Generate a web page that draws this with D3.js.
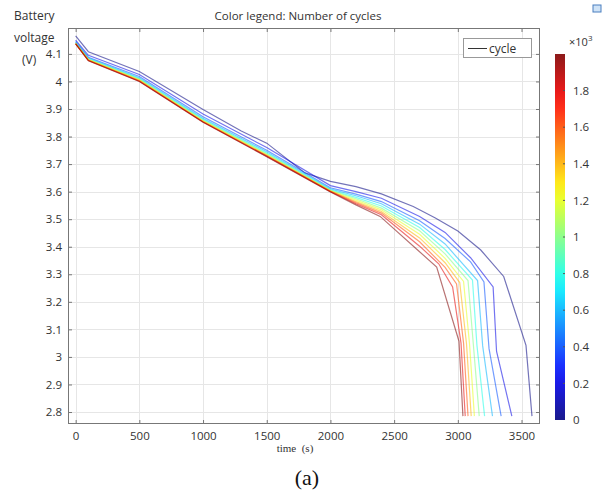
<html>
<head>
  <meta charset="utf-8">
  <script src="https://d3js.org/d3.v7.min.js"></script>
  <script>
    // discharge curves, [time (s), voltage (V)]
    var cyc0    = [[0,4.165],[100,4.108],[500,4.036],[1000,3.898],[1300,3.820],[1500,3.776],[1800,3.668],[2000,3.637],[2200,3.618],[2400,3.592],[2650,3.546],[2820,3.505],[3000,3.457],[3180,3.388],[3360,3.292],[3535,3.042],[3582,2.785]];
    var cyc200  = [[0,4.150],[100,4.095],[500,4.025],[1000,3.882],[1500,3.760],[2000,3.622],[2200,3.600],[2400,3.576],[2700,3.510],[2900,3.452],[3100,3.360],[3277,3.254],[3304,3.020],[3424,2.785]];
    var cyc400  = [[0,4.145],[100,4.088],[500,4.018],[1000,3.872],[1500,3.750],[2000,3.614],[2200,3.591],[2400,3.564],[2700,3.494],[2900,3.430],[3100,3.345],[3205,3.272],[3245,3.030],[3340,2.785]];
    var cyc600  = [[0,4.142],[100,4.085],[500,4.013],[1000,3.866],[1500,3.745],[2000,3.610],[2200,3.585],[2400,3.556],[2700,3.482],[2900,3.410],[3155,3.277],[3195,3.040],[3272,2.785]];
    var cyc800  = [[0,4.140],[100,4.082],[500,4.010],[1000,3.862],[1500,3.740],[2000,3.607],[2200,3.579],[2400,3.548],[2700,3.470],[2900,3.390],[3115,3.279],[3150,3.042],[3210,2.785]];
    var cyc1000 = [[0,4.139],[100,4.080],[500,4.008],[1000,3.859],[1500,3.737],[2000,3.605],[2200,3.574],[2400,3.540],[2700,3.458],[2900,3.374],[3080,3.277],[3122,3.044],[3168,2.785]];
    var cyc1200 = [[0,4.138],[100,4.079],[500,4.006],[1000,3.857],[1500,3.734],[2000,3.603],[2200,3.569],[2400,3.534],[2700,3.445],[2900,3.358],[3045,3.274],[3092,3.046],[3130,2.785]];
    var cyc1400 = [[0,4.137],[100,4.078],[500,4.004],[1000,3.855],[1500,3.732],[2000,3.602],[2200,3.564],[2400,3.528],[2700,3.432],[2900,3.342],[3015,3.270],[3068,3.048],[3105,2.785]];
    var cyc1600 = [[0,4.137],[100,4.077],[500,4.002],[1000,3.854],[1500,3.730],[2000,3.601],[2200,3.560],[2400,3.522],[2700,3.418],[2900,3.325],[2990,3.265],[3045,3.050],[3080,2.785]];
    var cyc1800 = [[0,4.136],[100,4.076],[500,4.001],[1000,3.853],[1500,3.728],[2000,3.600],[2200,3.556],[2400,3.516],[2700,3.402],[2850,3.338],[2959,3.254],[3025,3.050],[3058,2.785]];
    var cyc2000 = [[0,4.136],[100,4.075],[500,4.000],[1000,3.852],[1500,3.727],[2000,3.599],[2200,3.552],[2390,3.510],[2680,3.390],[2834,3.326],[3009,3.057],[3040,2.785]];

    var cycles = [0, 200, 400, 600, 800, 1000, 1200, 1400, 1600, 1800, 2000];
    var curves = [cyc0, cyc200, cyc400, cyc600, cyc800, cyc1000, cyc1200, cyc1400, cyc1600, cyc1800, cyc2000];

    var xTicks = [0, 500, 1000, 1500, 2000, 2500, 3000, 3500];
    var yTicks = [2.8, 2.9, 3, 3.1, 3.2, 3.3, 3.4, 3.5, 3.6, 3.7, 3.8, 3.9, 4, 4.1];
    var cbTicks = [0, 200, 400, 600, 800, 1000, 1200, 1400, 1600, 1800];

    var FONT = "'Open Sans', sans-serif";
    var SERIF = "'Liberation Serif', 'DejaVu Serif', serif";

    function makeChart() {
      var L = 68, R = 540, T = 28, B = 424;
      var xSc = d3.scaleLinear().domain([-60, 3645]).range([L, R]);
      var ySc = d3.scaleLinear().domain([2.7565, 4.194]).range([B, T]);

      // jet-like colour table
      var jet = d3.scaleLinear()
        .domain([0, 0.125, 0.375, 0.625, 0.875, 1])
        .range(["#00007f", "#0000ff", "#00ffff", "#ffff00", "#ff0000", "#7f0000"]);
      var cSc = d3.scaleLinear().domain([0, 2000]).range([0, 1]);

      var svg = d3.select("#chart");

      // grid
      var grid = svg.append("g").attr("stroke", "#e6e6e6").attr("stroke-width", 1);
      grid.selectAll("line.gx").data(xTicks).enter().append("line")
        .attr("x1", d => Math.round(xSc(d)) + 0.5).attr("x2", d => Math.round(xSc(d)) + 0.5)
        .attr("y1", T).attr("y2", B);
      grid.selectAll("line.gy").data(yTicks).enter().append("line")
        .attr("y1", d => Math.round(ySc(d)) + 0.5).attr("y2", d => Math.round(ySc(d)) + 0.5)
        .attr("x1", L).attr("x2", R);

      svg.append("clipPath").attr("id", "plotclip").append("rect")
        .attr("x", L).attr("y", T).attr("width", R - L).attr("height", B - T);

      var line = d3.line().x(d => xSc(d[0])).y(d => ySc(d[1]));
      svg.append("g").attr("clip-path", "url(#plotclip)")
        .selectAll("path").data(curves).enter().append("path")
        .attr("d", line)
        .attr("fill", "none")
        .attr("stroke", (d, i) => jet(cSc(cycles[i])))
        .attr("stroke-opacity", 0.55)
        .attr("stroke-width", 1.2);

      // axes with inward ticks
      var xAx = d3.axisBottom(xSc).tickValues(xTicks).tickSizeInner(-4).tickSizeOuter(0).tickPadding(8).tickFormat(d3.format("d"));
      var yAx = d3.axisLeft(ySc).tickValues(yTicks).tickSizeInner(-4).tickSizeOuter(0).tickPadding(6).tickFormat(d => String(d));
      var yAxR = d3.axisRight(ySc).tickValues(yTicks).tickSizeInner(-4).tickSizeOuter(0).tickFormat("");
      var xAxT = d3.axisTop(xSc).tickValues(xTicks).tickSizeInner(-4).tickSizeOuter(0).tickFormat("");

      function styleAxis(g) {
        g.selectAll(".domain").remove();
        g.selectAll("line").attr("stroke", "#777");
        g.selectAll("text").attr("fill", "#333").style("font-family", FONT).style("font-size", "11.5px");
      }
      svg.append("g").attr("transform", "translate(0," + B + ")").call(xAx).call(styleAxis);
      svg.append("g").attr("transform", "translate(" + L + ",0)").call(yAx).call(styleAxis);
      svg.append("g").attr("transform", "translate(" + R + ",0)").call(yAxR).call(styleAxis);
      svg.append("g").attr("transform", "translate(0," + T + ")").call(xAxT).call(styleAxis);

      svg.append("rect").attr("x", L + 0.5).attr("y", T + 0.5)
        .attr("width", R - L - 1).attr("height", B - T - 1)
        .attr("fill", "none").attr("stroke", "#777");

      // y label
      var yl = svg.append("g").attr("font-family", FONT).attr("font-size", "12px").attr("fill", "#333");
      yl.append("text").attr("x", 14).attr("y", 20).text("Battery");
      yl.append("text").attr("x", 14).attr("y", 42).text("voltage");
      yl.append("text").attr("x", 22).attr("y", 64).text("(V)");

      // title
      svg.append("text").attr("x", 298).attr("y", 20).attr("text-anchor", "middle")
        .attr("font-family", FONT).attr("font-size", "11.5px").attr("fill", "#333")
        .text("Color legend: Number of cycles");

      // x label
      svg.append("text").attr("x", 295).attr("y", 452).attr("text-anchor", "middle")
        .attr("font-family", SERIF).attr("font-size", "11px").attr("fill", "#333")
        .attr("xml:space", "preserve").text("time  (s)");

      svg.append("text").attr("x", 307).attr("y", 485).attr("text-anchor", "middle")
        .attr("font-family", SERIF).attr("font-size", "22px").attr("fill", "#111")
        .text("(a)");

      // legend box
      var lg = svg.append("g");
      lg.append("rect").attr("x", 463.5).attr("y", 38.5).attr("width", 68).attr("height", 19)
        .attr("fill", "#fff").attr("stroke", "#999");
      lg.append("line").attr("x1", 468).attr("x2", 487).attr("y1", 48.5).attr("y2", 48.5)
        .attr("stroke", "#333");
      lg.append("text").attr("x", 489).attr("y", 52.5)
        .attr("font-family", FONT).attr("font-size", "12px").attr("fill", "#333").text("cycle");

      // colour bar
      var cbTop = 54, cbBot = 420, cbX = 555, cbW = 10;
      var cbSc = d3.scaleLinear().domain([0, 2000]).range([cbBot, cbTop]);
      var grad = svg.append("defs").append("linearGradient").attr("id", "jetgrad")
        .attr("x1", 0).attr("y1", 1).attr("x2", 0).attr("y2", 0);
      grad.selectAll("stop").data(d3.range(0, 1.0001, 0.05)).enter().append("stop")
        .attr("offset", d => d).attr("stop-color", d => jet(d));
      svg.append("rect").attr("x", cbX).attr("y", cbTop).attr("width", cbW).attr("height", cbBot - cbTop)
        .attr("fill", "url(#jetgrad)").attr("opacity", 0.9);
      var cbAx = d3.axisRight(cbSc).tickValues(cbTicks).tickSize(0).tickPadding(8)
        .tickFormat(d => d === 0 ? "0" : String(d / 1000));
      svg.append("g").attr("transform", "translate(" + (cbX + cbW) + ",0)").call(cbAx).call(styleAxis);
      svg.append("g").selectAll("line").data(cbTicks.slice(1)).enter().append("line")
        .attr("x1", cbX + cbW - 2).attr("x2", cbX + cbW)
        .attr("y1", d => cbSc(d)).attr("y2", d => cbSc(d)).attr("stroke", "#555");
      var ex = svg.append("text").attr("x", 569).attr("y", 46)
        .attr("font-family", FONT).attr("font-size", "11px").attr("fill", "#333");
      ex.append("tspan").text("\u00d710");
      ex.append("tspan").attr("dy", -5).attr("font-size", "8px").text("3");

      // small window icon, top right
      svg.append("rect").attr("x", 593).attr("y", 5).attr("width", 8).attr("height", 7)
        .attr("fill", "#cfe3f7").attr("stroke", "#4a7fbf");
    }
  </script>
</head>

<body onload="makeChart()" style="margin:0">
  <svg id="chart" width="606" height="493" style="background:white"></svg>
</body>
</html>
